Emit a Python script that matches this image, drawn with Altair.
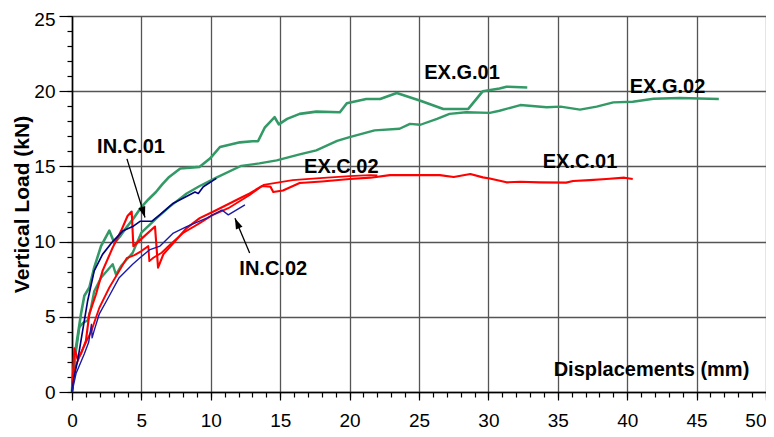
import math
import altair as alt
import pandas as pd

# ---------------- data ----------------
exg01_x = [0, 0.05, 0.29, 0.65, 0.89, 1.25, 1.6, 2.09, 2.69, 3.05, 3.5, 3.89, 4.4, 5.0, 5.5, 6.05, 6.5, 7.0, 7.8,
           9.2, 9.94, 10.66, 12.1, 13.0, 13.4, 13.9, 14.6, 14.9, 15.5, 16.4, 17.6, 19.3, 19.8, 21.2, 22.2, 23.4,
           25.1, 26.75, 28.55, 29.6, 30.8, 31.3, 32.8]
exg01_y = [0, 1.0, 3.0, 5.2, 6.4, 6.95, 8.27, 9.7, 10.73, 9.9, 10.4, 10.9, 11.5, 12.3, 12.8, 13.3, 13.8, 14.3, 14.86,
           14.97, 15.52, 16.29, 16.6, 16.67, 16.67, 17.6, 18.27, 17.8, 18.16, 18.49, 18.64, 18.6, 19.2, 19.48, 19.48,
           19.88, 19.37, 18.82, 18.82, 20.0, 20.18, 20.3, 20.25]

exg02_x = [0, 0.1, 0.3, 0.53, 0.8, 1.13, 1.37, 1.6, 2.09, 2.93, 3.17, 3.53, 4.37, 5.0, 6.1, 7.06, 8.26, 9.2, 10.4,
           12.2, 13.5, 14.75, 16.4, 17.6, 19.1, 20.0, 21.8, 23.6, 24.35, 25.1, 26.3, 27.2, 28.4, 30.1, 30.8, 32.3,
           34.2, 35.2, 36.6, 37.8, 39.0, 40.4, 41.9, 43.8, 46.6]
exg02_y = [0, 1.2, 2.8, 4.3, 4.6, 4.75, 5.6, 6.7, 7.6, 8.5, 7.8, 8.38, 9.25, 10.6, 11.56, 12.34, 13.2, 13.7, 14.25,
           15.04, 15.2, 15.4, 15.8, 16.07, 16.7, 16.95, 17.4, 17.5, 17.83, 17.77, 18.16, 18.49, 18.6, 18.56, 18.7,
           19.08, 18.93, 18.97, 18.78, 18.97, 19.26, 19.3, 19.5, 19.55, 19.48]

exc01_x = [0, 0.05, 0.17, 0.4, 0.65, 1.0, 1.25, 1.73, 2.2, 2.93, 3.53, 4.0, 4.3, 4.42, 4.9, 5.98, 6.2, 6.58, 7.4,
           8.26, 9.2, 10.2, 12.1, 12.8, 13.7, 14.3, 14.5, 15.2, 16.4, 18.0, 20.0, 21.5, 22.9, 24.8, 26.5, 27.5,
           28.7, 29.6, 30.1, 31.3, 32.3, 33.7, 35.6, 36.1, 37.3, 38.5, 39.8, 40.4]
exc01_y = [0, 0.8, 2.9, 2.2, 2.55, 3.4, 5.2, 6.5, 8.05, 9.6, 10.7, 11.7, 12.0, 9.7, 10.1, 11.0, 8.27, 9.15, 10.0,
           10.9, 11.56, 12.0, 12.88, 13.2, 13.7, 13.65, 13.3, 13.4, 13.9, 14.0, 14.16, 14.25, 14.42, 14.42, 14.42,
           14.3, 14.49, 14.27, 14.2, 13.94, 13.98, 13.94, 13.92, 14.03, 14.09, 14.16, 14.25, 14.16]

exc02_x = [0, 0.1, 0.3, 0.65, 1.0, 1.37, 1.97, 2.69, 3.4, 3.94, 4.5, 5.0, 5.5, 5.57, 5.86, 6.46, 7.06, 8.0, 9.2,
           10.2, 11.26, 12.8, 13.8, 15.9, 17.6, 20.0, 21.5, 22.0]
exc02_y = [0, 1.2, 1.8, 2.6, 3.3, 4.0, 5.6, 6.95, 8.05, 8.9, 9.1, 9.37, 9.7, 8.7, 8.93, 9.26, 9.8, 10.57, 11.23,
           11.8, 12.22, 13.1, 13.77, 14.09, 14.2, 14.35, 14.42, 14.4]

inc01_x = [0, 0.15, 0.41, 0.77, 1.13, 1.6, 2.2, 2.93, 3.65, 4.37, 4.9, 5.74, 6.34, 7.3, 8.0, 8.86, 9.1, 9.46, 10.4]
inc01_y = [0, 1.0, 2.1, 4.1, 6.07, 8.05, 9.15, 10.0, 10.7, 11.0, 11.35, 11.35, 11.8, 12.55, 12.88, 13.3, 13.2,
           13.65, 14.2]

inc02_x = [0, 0.29, 0.89, 1.2, 1.4, 1.45, 1.6, 1.97, 2.69, 3.4, 4.37, 4.9, 5.62, 6.34, 7.3, 8.26, 9.7, 10.8,
           11.26, 12.46]
inc02_y = [0, 1.23, 2.55, 3.3, 4.5, 3.6, 4.1, 5.2, 6.4, 7.6, 8.5, 8.93, 9.47, 9.7, 10.57, 11.0, 11.56, 12.1,
           11.78, 12.44]

series_names = ["EX.G.01", "EX.G.02", "EX.C.01", "EX.C.02", "IN.C.01", "IN.C.02"]
series_x = [exg01_x, exg02_x, exc01_x, exc02_x, inc01_x, inc02_x]
series_y = [exg01_y, exg02_y, exc01_y, exc02_y, inc01_y, inc02_y]

ann_text = ["IN.C.01", "IN.C.02", "EX.C.02", "EX.C.01", "EX.G.01", "EX.G.02"]
ann_x = [4.25, 14.5, 19.4, 36.6, 28.1, 42.9]
ann_y = [16.3, 8.18, 14.94, 15.27, 21.24, 20.28]

arrow_x_start = [3.96, 12.8]
arrow_y_start = [15.5, 9.25]
arrow_x_tip = [5.26, 11.74]
arrow_y_tip = [11.6, 11.56]

x_major = [0, 5, 10, 15, 20, 25, 30, 35, 40, 45, 50]
y_major = [0, 5, 10, 15, 20, 25]
x_minor = list(range(0, 51))
y_minor = list(range(0, 26))

# ---------------- styling ----------------
W, H = 694, 376
FONT = "Liberation Sans"
colors = ["#339966", "#339966", "#ff0000", "#ff0000", "#000080", "#1a1aa8"]
widths = [2.6, 1.4, 2.2, 1.5, 2.2, 1.3]

rows = []
for name, xs, ys in zip(series_names, series_x, series_y):
    for i, (a, b) in enumerate(zip(xs, ys)):
        rows.append({"series": name, "x": a, "y": b, "i": i})
df = pd.DataFrame(rows)

ann_df = pd.DataFrame({"t": ann_text, "x": ann_x, "y": ann_y})

angles = []
for sx, sy, tx, ty in zip(arrow_x_start, arrow_y_start, arrow_x_tip, arrow_y_tip):
    dx = (tx - sx) * W / 50.0
    dy = -(ty - sy) * H / 25.0
    angles.append(math.degrees(math.atan2(dx, -dy)) % 360)
arr_df = pd.DataFrame({"x": arrow_x_start, "y": arrow_y_start, "x2": arrow_x_tip, "y2": arrow_y_tip,
                       "angle": angles})

xscale = alt.Scale(domain=[0, 50], nice=False, zero=False)
yscale = alt.Scale(domain=[0, 25], nice=False, zero=False)

# major axes (with grid and labels)
x_axis = alt.Axis(
    values=x_major, format="d", title=None, grid=True, gridColor="#555555", gridWidth=1.3, gridOpacity=1,
    tickSize=8, tickColor="#000000", tickWidth=1.2,
    labelAlign={"condition": {"test": "datum.value === 50", "value": "right"}, "value": "center"},
    labelOverlap=False, labelFont=FONT, labelFontSize=19, labelColor="#000000", labelPadding=11,
    domainColor="#000000", domainWidth=1.6, orient="bottom",
)
y_axis = alt.Axis(
    values=y_major, format="d", title="Vertical Load (kN)", grid=True, gridColor="#555555", gridWidth=1.3,
    gridOpacity=1, tickSize=13, tickColor="#000000", tickWidth=1.2,
    labelOffset={"condition": {"test": "datum.value === 25", "value": 3}, "value": 0},
    labelOverlap=False, labelFont=FONT, labelFontSize=19, labelColor="#000000", labelPadding=4,
    domainColor="#000000", domainWidth=1.6, orient="left",
    titleFont=FONT, titleFontSize=21, titleFontWeight="bold", titleColor="#000000", titlePadding=1,
)
# minor tick axes (no labels, no grid)
x_axis_minor = alt.Axis(
    values=x_minor, tickCount=100, title=None, grid=False, labels=False, domain=False,
    tickSize=5, tickColor="#000000", tickWidth=1.2, orient="bottom",
)
y_axis_minor = alt.Axis(
    values=y_minor, tickCount=100, title=None, grid=False, labels=False, domain=False,
    tickSize=5, tickColor="#000000", tickWidth=1.2, orient="left",
)

lines = alt.Chart(df).mark_line(strokeJoin="round").encode(
    x=alt.X("x:Q", scale=xscale, axis=x_axis),
    y=alt.Y("y:Q", scale=yscale, axis=y_axis),
    color=alt.Color("series:N", scale=alt.Scale(domain=series_names, range=colors), legend=None),
    strokeWidth=alt.StrokeWidth("series:N", scale=alt.Scale(domain=series_names, range=widths), legend=None),
    detail="series:N",
    order="i:Q",
)

minor = alt.Chart(df).mark_point(opacity=0).encode(
    x=alt.X("x:Q", scale=xscale, axis=x_axis_minor),
    y=alt.Y("y:Q", scale=yscale, axis=y_axis_minor),
)

labels = alt.Chart(ann_df).mark_text(font=FONT, fontSize=20, fontWeight="bold", color="#000000").encode(
    x=alt.X("x:Q", scale=xscale, axis=None), y=alt.Y("y:Q", scale=yscale, axis=None), text="t:N"
)

xlabel = alt.Chart(pd.DataFrame({"t": ["Displacements (mm)"], "x": [41.75], "y": [1.45]})).mark_text(
    font=FONT, fontSize=20, fontWeight="bold", color="#000000"
).encode(x=alt.X("x:Q", scale=xscale, axis=None), y=alt.Y("y:Q", scale=yscale, axis=None), text="t:N")

arrow_lines = alt.Chart(arr_df).mark_rule(color="#000000", strokeWidth=1.3).encode(
    x=alt.X("x:Q", scale=xscale, axis=None), y=alt.Y("y:Q", scale=yscale, axis=None),
    x2="x2:Q", y2="y2:Q",
)
arrow_heads = alt.Chart(arr_df).mark_point(
    shape="M0,0L-0.75,2.3L0.75,2.3Z", filled=True, color="#000000", opacity=1, size=90
).encode(
    x=alt.X("x2:Q", scale=xscale, axis=None), y=alt.Y("y2:Q", scale=yscale, axis=None),
    angle=alt.Angle("angle:Q", scale=None),
)

chart = alt.layer(lines, minor, arrow_lines, arrow_heads, labels, xlabel).resolve_axis(
    x="independent", y="independent"
).properties(
    width=W, height=H,
    autosize=alt.AutoSizeParams(type="none"),
    padding={"left": 64, "top": 8, "right": 0, "bottom": 37},
).configure(background="#ffffff").configure_view(stroke=None)

chart.save("out.html", embed_options={"renderer": "svg", "actions": False})
